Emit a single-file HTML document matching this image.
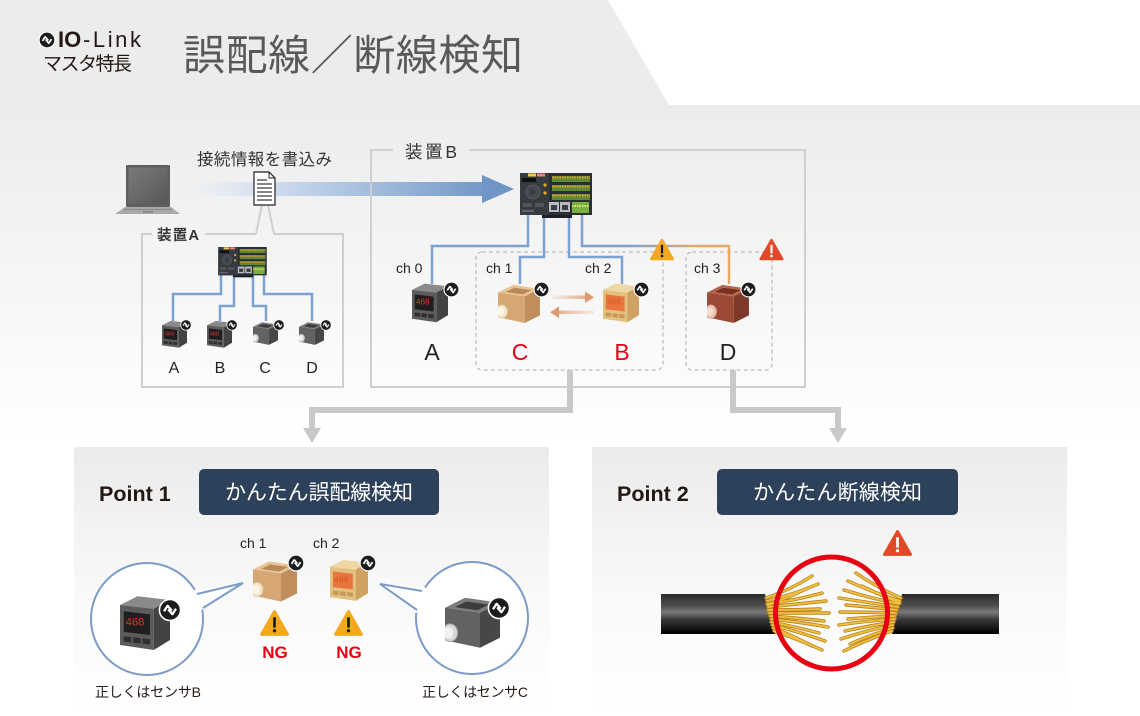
<!DOCTYPE html>
<html><head><meta charset="utf-8"><style>
html,body{margin:0;padding:0;background:#fff;}
body{width:1140px;height:716px;overflow:hidden;}
svg{display:block;}
text{font-family:"Liberation Sans","Noto Sans CJK JP",sans-serif;}
</style></head><body>
<svg width="1140" height="716" viewBox="0 0 1140 716" xmlns="http://www.w3.org/2000/svg">
<defs>
<linearGradient id="bg" x1="0" y1="0" x2="0" y2="716" gradientUnits="userSpaceOnUse">
<stop offset="0" stop-color="#ececec"/><stop offset="0.15" stop-color="#ececec"/><stop offset="0.62" stop-color="#ffffff"/><stop offset="1" stop-color="#ffffff"/>
</linearGradient>
<linearGradient id="panel" x1="0" y1="0" x2="0" y2="1">
<stop offset="0" stop-color="#ebebeb"/><stop offset="0.55" stop-color="#f9f9f9"/><stop offset="1" stop-color="#ffffff"/>
</linearGradient>
<linearGradient id="band" x1="180" y1="0" x2="484" y2="0" gradientUnits="userSpaceOnUse">
<stop offset="0" stop-color="#e6ecf4" stop-opacity="0"/><stop offset="0.3" stop-color="#cfdcee"/><stop offset="1" stop-color="#7399c8"/>
</linearGradient>
<linearGradient id="ch3" x1="628" y1="0" x2="700" y2="0" gradientUnits="userSpaceOnUse">
<stop offset="0" stop-color="#7ba2d0"/><stop offset="1" stop-color="#e8a868"/>
</linearGradient>
<linearGradient id="arrR" x1="552" y1="0" x2="594" y2="0" gradientUnits="userSpaceOnUse">
<stop offset="0" stop-color="#e8b898" stop-opacity="0.2"/><stop offset="1" stop-color="#dd9a70"/>
</linearGradient>
<linearGradient id="arrL" x1="550" y1="0" x2="594" y2="0" gradientUnits="userSpaceOnUse">
<stop offset="0" stop-color="#dd9a70"/><stop offset="1" stop-color="#e8b898" stop-opacity="0.2"/>
</linearGradient>
<linearGradient id="cable" x1="0" y1="0" x2="0" y2="1">
<stop offset="0" stop-color="#2b2b2b"/><stop offset="0.3" stop-color="#4e4e4e"/><stop offset="0.45" stop-color="#7a7a7a"/><stop offset="0.65" stop-color="#353535"/><stop offset="1" stop-color="#000"/>
</linearGradient>
<linearGradient id="scr" x1="0" y1="0" x2="1" y2="1">
<stop offset="0" stop-color="#7a7a7a"/><stop offset="1" stop-color="#575757"/>
</linearGradient>

<symbol id="io" viewBox="-10 -10 20 20">
<circle r="8.8" fill="#1c1c1c" stroke="#fff" stroke-width="1.3"/>
<polyline points="-5,1 -2,-3.5 1.5,0.5" fill="none" stroke="#fff" stroke-width="1.9" stroke-linejoin="round"/>
<polyline points="-1.5,-0.5 2,3.5 5,-1" fill="none" stroke="#fff" stroke-width="1.9" stroke-linejoin="round"/>
</symbol>

<symbol id="warnO" viewBox="-15 -14 30 28">
<polygon points="0,-11.5 12.5,10.5 -12.5,10.5" fill="#f3a81e" stroke="#f3a81e" stroke-width="3" stroke-linejoin="round"/>
<rect x="-1.3" y="-6" width="2.6" height="10" fill="#1a1a1a"/><circle cx="0" cy="7" r="1.6" fill="#1a1a1a"/>
</symbol>
<symbol id="warnR" viewBox="-15 -14 30 28">
<polygon points="0,-11.5 12.5,10.5 -12.5,10.5" fill="#e04a26" stroke="#e04a26" stroke-width="3" stroke-linejoin="round"/>
<rect x="-1.3" y="-6" width="2.6" height="10" fill="#fff"/><circle cx="0" cy="7" r="1.6" fill="#fff"/>
</symbol>

<symbol id="master" viewBox="0 0 72 46">
<rect x="22" y="40" width="30" height="5" fill="#1d1f22"/>
<rect x="0" y="0" width="72" height="42" fill="#2b2f35"/>
<rect x="0" y="0" width="29" height="42" fill="#363b42"/>
<rect x="8" y="0.5" width="8" height="3" fill="#f0d040"/>
<rect x="17" y="0.5" width="8" height="3" fill="#f08080"/>
<rect x="2" y="5" width="14" height="4" fill="#111"/>
<circle cx="13" cy="19" r="7" fill="#44494f" stroke="#555b62"/>
<circle cx="13" cy="19" r="2.5" fill="#363b42"/>
<circle cx="25" cy="12" r="1.6" fill="#e0b020"/><circle cx="25" cy="20" r="1.6" fill="#e0b020"/>
<rect x="3" y="30" width="9" height="4" fill="#555"/><rect x="15" y="30" width="9" height="4" fill="#555"/>
<rect x="2" y="37" width="12" height="2" fill="#666"/>
<rect x="32" y="3" width="38" height="6" fill="#5d8a35"/>
<rect x="32" y="12" width="38" height="6" fill="#5d8a35"/>
<rect x="32" y="21" width="38" height="6" fill="#5d8a35"/>
<line x1="32" y1="4.5" x2="70" y2="4.5" stroke="#e8a030" stroke-width="2" stroke-dasharray="1.5 1"/>
<line x1="32" y1="13.5" x2="70" y2="13.5" stroke="#e8a030" stroke-width="2" stroke-dasharray="1.5 1"/>
<line x1="32" y1="22.5" x2="70" y2="22.5" stroke="#e8a030" stroke-width="2" stroke-dasharray="1.5 1"/>
<rect x="29" y="29" width="10" height="10" fill="#b8bcc0"/><rect x="31" y="32" width="6" height="5" fill="#3a3f45"/>
<rect x="40" y="29" width="10" height="10" fill="#b8bcc0"/><rect x="42" y="32" width="6" height="5" fill="#3a3f45"/>
<rect x="52" y="29" width="17" height="11" fill="#7ab040"/>
<line x1="52" y1="33" x2="69" y2="33" stroke="#d9e870" stroke-width="2" stroke-dasharray="1.5 1"/>
</symbol>

<symbol id="dispG" viewBox="0 0 40 44">
<polygon points="0,8 14,1 40,4 27,11" fill="#8a8a8a"/>
<polygon points="0,8 27,11 27,44 0,40" fill="#5c5c5c"/>
<polygon points="27,11 40,4 40,36 27,44" fill="#434343"/>
<polygon points="3,13 24,15.5 24,32 3,29.5" fill="#1e1e1e"/>
<text x="4.5" y="24.5" font-size="9" fill="#e53030">468</text>
<polygon points="3,33 9,33.7 9,38 3,37.3" fill="#2e2e2e"/><polygon points="10.5,33.8 16.5,34.5 16.5,38.8 10.5,38.1" fill="#2e2e2e"/><polygon points="18,34.6 24,35.3 24,39.6 18,38.9" fill="#2e2e2e"/>
</symbol>
<symbol id="dispY" viewBox="0 0 40 44">
<polygon points="0,8 14,1 40,4 27,11" fill="#eed8a4"/>
<polygon points="0,8 27,11 27,44 0,40" fill="#e3c07e"/>
<polygon points="27,11 40,4 40,36 27,44" fill="#cfa262"/>
<polygon points="3,13 24,15.5 24,32 3,29.5" fill="#e8743e"/>
<text x="4.5" y="24.5" font-size="9" fill="#d85a2a">468</text>
<polygon points="3,33 9,33.7 9,38 3,37.3" fill="#c79a5a"/><polygon points="10.5,33.8 16.5,34.5 16.5,38.8 10.5,38.1" fill="#c79a5a"/><polygon points="18,34.6 24,35.3 24,39.6 18,38.9" fill="#c79a5a"/>
</symbol>
<symbol id="fitG" viewBox="0 0 44 42">
<polygon points="0,10 16,2 44,6 28,14" fill="#7c7c7c"/>
<polygon points="8,9.5 17,5 35,7.5 26,12" fill="#3c3c3c"/>
<polygon points="0,10 28,14 28,42 0,36" fill="#626262"/>
<polygon points="28,14 44,6 44,34 28,42" fill="#474747"/>
<ellipse cx="4" cy="30" rx="6" ry="7" fill="#d8d8d8" stroke="#aaa" stroke-width="0.8"/>
<ellipse cx="3" cy="30" rx="3.5" ry="4.5" fill="#f2f2f2"/>
</symbol>
<symbol id="fitT" viewBox="0 0 44 42">
<polygon points="0,10 16,2 44,6 28,14" fill="#e8c494"/>
<polygon points="8,9.5 17,5 35,7.5 26,12" fill="#b88858"/>
<polygon points="0,10 28,14 28,42 0,36" fill="#d6a674"/>
<polygon points="28,14 44,6 44,34 28,42" fill="#c08d5c"/>
<ellipse cx="4" cy="30" rx="6" ry="7" fill="#f2e6c8" stroke="#d8c8a0" stroke-width="0.8"/>
<ellipse cx="3" cy="30" rx="3.5" ry="4.5" fill="#fbf5e4"/>
</symbol>
<symbol id="fitR" viewBox="0 0 44 42">
<polygon points="0,10 16,2 44,6 28,14" fill="#b4664c"/>
<polygon points="8,9.5 17,5 35,7.5 26,12" fill="#7a3020"/>
<polygon points="0,10 28,14 28,42 0,36" fill="#9c4a36"/>
<polygon points="28,14 44,6 44,34 28,42" fill="#803828"/>
<ellipse cx="4" cy="30" rx="6" ry="7" fill="#eec4b4" stroke="#c89888" stroke-width="0.8"/>
<ellipse cx="3" cy="30" rx="3.5" ry="4.5" fill="#f8dcd0"/>
</symbol>
</defs>

<!-- background -->
<rect x="0" y="0" width="1140" height="716" fill="url(#bg)"/>
<polygon points="608,0 1140,0 1140,105 669,105" fill="#ffffff"/>

<!-- header -->
<use href="#io" x="38" y="31" width="18" height="18"/>
<text x="58" y="47" font-size="22" font-weight="bold" fill="#231815">IO</text>
<text x="83" y="47" font-size="22" fill="#231815" textLength="58">-Link</text>
<text x="43" y="70" font-size="19" fill="#231815" textLength="89">マスタ特長</text>
<text x="183" y="70" font-size="42" fill="#595959" textLength="340">誤配線／断線検知</text>

<!-- laptop -->
<rect x="126" y="165" width="44" height="42" rx="1.5" fill="#5e5e5e"/>
<rect x="128.5" y="167.5" width="39" height="37" fill="url(#scr)"/>
<polygon points="125,207 171,207 180,214 115,214" fill="#a9a9a9"/>
<line x1="124" y1="209.5" x2="172" y2="209.5" stroke="#7f7f7f" stroke-width="1.2" stroke-dasharray="1.5 0.8"/>
<rect x="143" y="211" width="10" height="2" fill="#8a8a8a"/>

<!-- blue arrow -->
<rect x="180" y="182" width="303" height="14" fill="url(#band)"/>
<polygon points="482,175 514,189 482,203" fill="#7096c7"/>

<text x="197" y="165" font-size="16.5" fill="#333" textLength="135">接続情報を書込み</text>

<!-- Device A box -->
<path d="M152,234 H142 V387 H343 V234 H274 M256,234 H205" fill="none" stroke="#cfcfcf" stroke-width="2"/>
<path d="M262,205 L256,234 M268,205 L274,234" fill="none" stroke="#cfcfcf" stroke-width="2"/>
<!-- document -->
<path d="M254,172 H269 L275,178 V205 H254 Z" fill="#fff" stroke="#222" stroke-width="1.2"/>
<path d="M269,172 V178 H275" fill="none" stroke="#222" stroke-width="1"/>
<g stroke="#333" stroke-width="1.2"><line x1="257" y1="180" x2="267" y2="180"/><line x1="257" y1="184" x2="272" y2="184"/><line x1="257" y1="188" x2="272" y2="188"/><line x1="257" y1="192" x2="272" y2="192"/><line x1="257" y1="196" x2="272" y2="196"/><line x1="257" y1="200" x2="272" y2="200"/></g>
<text x="157" y="240" font-size="14.5" font-weight="bold" fill="#333" textLength="42">装置A</text>

<g fill="none" stroke="#7ba2d0" stroke-width="2.5">
<path d="M221,274 V294 H173 V321"/><path d="M234,274 V306 H220 V321"/>
<path d="M253,274 V306 H266 V321"/><path d="M264,274 V294 H312 V321"/>
</g>
<use href="#master" x="218" y="247" width="49" height="31"/>
<use href="#dispG" x="162" y="320" width="25" height="28"/>
<use href="#dispG" x="207" y="320" width="25" height="28"/>
<use href="#fitG" x="253" y="321" width="25" height="24"/>
<use href="#fitG" x="299" y="321" width="25" height="24"/>
<use href="#io" x="180" y="319" width="12" height="12"/>
<use href="#io" x="226" y="319" width="12" height="12"/>
<use href="#io" x="273" y="319" width="12" height="12"/>
<use href="#io" x="320" y="319" width="12" height="12"/>
<g font-size="16" fill="#222" text-anchor="middle">
<text x="174" y="373">A</text><text x="220" y="373">B</text><text x="265" y="373">C</text><text x="312" y="373">D</text>
</g>

<!-- Device B box -->
<path d="M393,150 H371 V387 H805 V150 H469" fill="none" stroke="#cfcfcf" stroke-width="2"/>
<text x="405" y="158" font-size="17.5" fill="#333" textLength="52">装置B</text>

<!-- dashed boxes -->
<rect x="476" y="252" width="187" height="118" rx="6" fill="none" stroke="#bdbdbd" stroke-width="1.3" stroke-dasharray="4 3"/>
<rect x="686" y="252" width="86" height="118" rx="6" fill="none" stroke="#bdbdbd" stroke-width="1.3" stroke-dasharray="4 3"/>

<!-- connectors to panels -->
<g fill="none" stroke="#c9c9c9" stroke-width="6">
<path d="M570,370 V410 H312 V429"/><path d="M733,370 V410 H838 V429"/>
</g>
<polygon points="303,428 321,428 312,443" fill="#c9c9c9"/>
<polygon points="829,428 847,428 838,443" fill="#c9c9c9"/>

<!-- wires B -->
<g fill="none" stroke-width="2.5">
<path d="M528,215 V246 H432 V284" stroke="#7ba2d0"/>
<path d="M544,215 V257 H520 V284" stroke="#7ba2d0"/>
<path d="M569,215 V257 H622 V284" stroke="#7ba2d0"/>
<path d="M582,215 V246 H628" stroke="#7ba2d0"/>
<path d="M627,246 H729" stroke="url(#ch3)"/>
<path d="M729,245 V284" stroke="#e8a868"/>
</g>
<use href="#master" x="520" y="173" width="72" height="46"/>

<use href="#warnO" x="649" y="238" width="26" height="24"/>
<use href="#warnR" x="758.5" y="238" width="26" height="24"/>

<g font-size="14" fill="#222">
<text x="396" y="273">ch 0</text><text x="486" y="273">ch 1</text><text x="585" y="273">ch 2</text><text x="694" y="273">ch 3</text>
</g>

<use href="#dispG" x="412" y="282" width="36" height="41"/>
<use href="#fitT" x="498" y="283" width="42" height="40"/>
<use href="#dispY" x="603" y="282" width="36" height="41"/>
<use href="#fitR" x="707" y="283" width="42" height="40"/>
<use href="#io" x="443" y="281" width="17" height="17"/>
<use href="#io" x="533" y="281" width="17" height="17"/>
<use href="#io" x="633" y="281" width="17" height="17"/>
<use href="#io" x="740" y="281" width="17" height="17"/>

<!-- swap arrows -->
<rect x="552" y="295.5" width="34" height="3.5" fill="url(#arrR)"/>
<polygon points="585,291.5 594,297.2 585,303" fill="#dd9a70"/>
<rect x="558" y="310.5" width="36" height="3.5" fill="url(#arrL)"/>
<polygon points="559,306.5 550,312.2 559,318" fill="#dd9a70"/>

<g font-size="23" text-anchor="middle">
<text x="432" y="360" fill="#222">A</text><text x="520" y="360" fill="#e60012">C</text>
<text x="622" y="360" fill="#e60012">B</text><text x="728" y="360" fill="#222">D</text>
</g>

<!-- Point 1 panel -->
<rect x="74" y="447" width="475" height="269" fill="url(#panel)"/>
<text x="99" y="501" font-size="21.5" font-weight="bold" fill="#231815">Point 1</text>
<rect x="199" y="469" width="240" height="46" rx="5" fill="#2e415a"/>
<text x="319" y="499.5" font-size="21" fill="#fff" text-anchor="middle" textLength="188">かんたん誤配線検知</text>
<g font-size="14" fill="#222"><text x="240" y="548">ch 1</text><text x="313" y="548">ch 2</text></g>
<use href="#fitT" x="253" y="559" width="44" height="43"/>
<use href="#dispY" x="330" y="558" width="38" height="44"/>
<use href="#io" x="287" y="554" width="18" height="18"/>
<use href="#io" x="359" y="554" width="18" height="18"/>
<use href="#warnO" x="259" y="609" width="31" height="29"/>
<use href="#warnO" x="333" y="609" width="31" height="29"/>
<g font-size="17" font-weight="bold" fill="#e60012" text-anchor="middle"><text x="275" y="658">NG</text><text x="349" y="658">NG</text></g>

<!-- left callout -->
<circle cx="147" cy="619" r="56" fill="#fff" stroke="#7b9bc8" stroke-width="2"/>
<polygon points="194,590 243,583 200,611 188,606" fill="#fff"/>
<polyline points="197,594 243,583 203,608" fill="none" stroke="#7b9bc8" stroke-width="2" stroke-linejoin="miter"/>
<use href="#dispG" x="120" y="594" width="50" height="57"/>
<use href="#io" x="158" y="598" width="24" height="24"/>
<!-- right callout -->
<circle cx="472" cy="618" r="56" fill="#fff" stroke="#7b9bc8" stroke-width="2"/>
<polygon points="425,587 380,584 416,613 430,607" fill="#fff"/>
<polyline points="422,591 380,584 417,610" fill="none" stroke="#7b9bc8" stroke-width="2" stroke-linejoin="miter"/>
<use href="#fitG" x="445" y="595" width="55" height="53"/>
<use href="#io" x="487" y="596" width="24" height="24"/>
<g font-size="14" fill="#231815"><text x="95" y="697" textLength="106">正しくはセンサB</text><text x="422" y="697" textLength="106">正しくはセンサC</text></g>

<!-- Point 2 panel -->
<rect x="592" y="447" width="475" height="269" fill="url(#panel)"/>
<text x="617" y="501" font-size="21.5" font-weight="bold" fill="#231815">Point 2</text>
<rect x="717" y="469" width="241" height="46" rx="5" fill="#2e415a"/>
<text x="837.5" y="499.5" font-size="21" fill="#fff" text-anchor="middle" textLength="169">かんたん断線検知</text>
<use href="#warnR" x="882" y="529" width="31" height="29"/>

<!-- cable -->
<path d="M661,594 H765 L775,634 H661 Z" fill="url(#cable)"/>
<path d="M902,594 H999 V634 H892 Z" fill="url(#cable)"/>
<g fill="none" stroke-linecap="round">
<g stroke="#b8801c" stroke-width="3.4">
<path d="M766,598 Q790,590 812,576"/><path d="M767,601 Q795,594 818,584"/><path d="M767,604 Q797,600 822,593"/>
<path d="M768,607 Q798,604 826,601"/><path d="M768,610 Q796,610 820,609"/><path d="M769,613 Q800,613 829,613"/>
<path d="M770,616 Q798,618 824,621"/><path d="M771,619 Q800,622 828,627"/><path d="M771,622 Q796,627 819,633"/>
<path d="M772,625 Q800,632 825,641"/><path d="M773,628 Q794,636 812,646"/><path d="M774,631 Q800,640 822,650"/>
<path d="M768,605 Q790,597 808,588"/>
<path d="M901,598 Q878,588 856,573"/><path d="M900,601 Q872,592 848,581"/><path d="M899,604 Q870,598 844,590"/>
<path d="M898,607 Q866,602 839,598"/><path d="M897,610 Q870,607 846,605"/><path d="M896,613 Q866,612 840,612"/>
<path d="M895,616 Q870,617 848,619"/><path d="M895,619 Q865,621 839,625"/><path d="M894,622 Q868,626 845,631"/>
<path d="M893,625 Q865,631 841,639"/><path d="M893,628 Q870,635 850,644"/><path d="M892,631 Q866,640 844,651"/>
<path d="M900,603 Q880,595 862,586"/>
</g>
<g stroke="#f0c040" stroke-width="1.8">
<path d="M766,598 Q790,590 812,576"/><path d="M767,601 Q795,594 818,584"/><path d="M767,604 Q797,600 822,593"/>
<path d="M768,607 Q798,604 826,601"/><path d="M768,610 Q796,610 820,609"/><path d="M769,613 Q800,613 829,613"/>
<path d="M770,616 Q798,618 824,621"/><path d="M771,619 Q800,622 828,627"/><path d="M771,622 Q796,627 819,633"/>
<path d="M772,625 Q800,632 825,641"/><path d="M773,628 Q794,636 812,646"/><path d="M774,631 Q800,640 822,650"/>
<path d="M768,605 Q790,597 808,588"/>
<path d="M901,598 Q878,588 856,573"/><path d="M900,601 Q872,592 848,581"/><path d="M899,604 Q870,598 844,590"/>
<path d="M898,607 Q866,602 839,598"/><path d="M897,610 Q870,607 846,605"/><path d="M896,613 Q866,612 840,612"/>
<path d="M895,616 Q870,617 848,619"/><path d="M895,619 Q865,621 839,625"/><path d="M894,622 Q868,626 845,631"/>
<path d="M893,625 Q865,631 841,639"/><path d="M893,628 Q870,635 850,644"/><path d="M892,631 Q866,640 844,651"/>
<path d="M900,603 Q880,595 862,586"/>
</g>
</g>
<circle cx="831.5" cy="613" r="56" fill="none" stroke="#e60012" stroke-width="5"/>
</svg>
</body></html>
